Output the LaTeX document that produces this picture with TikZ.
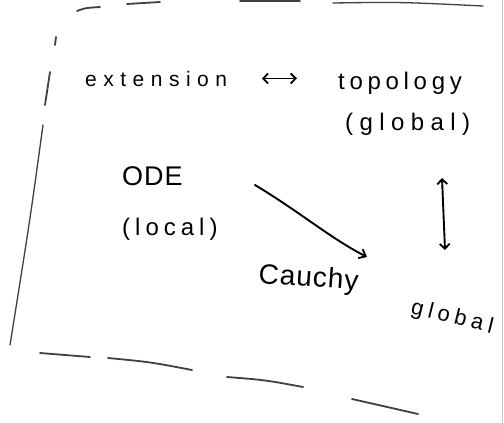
\documentclass[tikz,border=0pt]{standalone}
\usepackage{fontspec}
\setmainfont{Liberation Sans}
\usetikzlibrary{arrows.meta}
\newdimen\lsk
\def\lsA#1{\ifx#1\relax\else#1\kern\lsk\expandafter\lsA\fi}
\newcommand\lsp[2]{\lsk=#1\relax\lsA#2\relax}
\tikzset{
  hand/.style={inner sep=0pt, anchor=base west, text=black},
  link/.style={line width=1.9pt, line cap=round, line join=round,
    arrows={Straight Barb[length=5pt,width=10pt,line width=1.8pt]-Straight Barb[length=5pt,width=10pt,line width=1.8pt]}},
  onelink/.style={line width=1.9pt, line cap=round, -{Straight Barb[length=6pt,width=10pt,line width=1.8pt]}},
  frame/.style={line width=1.8pt, line cap=round, black!75},
}
\begin{document}
\begin{tikzpicture}[x=1pt,y=-1pt]
\useasboundingbox (0,0) rectangle (504,423);
\fill[white] (0,0) rectangle (504,423);
% frame strokes
\draw[frame] (77,11) .. controls (85,8) .. (100,7);
\draw[frame] (127,4) -- (160,2);
\draw[frame] (240,1) -- (300,1);
\draw[frame, line width=1.3pt] (333,3) .. controls (400,2) .. (483,6);
\draw[frame] (56,37) -- (55,45);
\draw[frame] (50,72) -- (45,105);
\draw[frame, line width=1.3pt] (43,125) .. controls (30,220) .. (10,345);
\draw[frame] (40,353) -- (90,357);
\draw[frame] (108,358) .. controls (150,362) .. (192,370);
\draw[frame] (227,377) .. controls (265,380) .. (303,387);
\draw[frame] (352,399) -- (418,414);
\draw[gray!45, line width=1pt] (502,0) -- (502,423);
% texts
\node[hand, font=\fontsize{21}{21}\selectfont] (ext) at (85,86) {\lsp{6.5pt}{extension}};
\node[hand, font=\fontsize{24}{24}\selectfont] (top) at (338,89) {\lsp{4.7pt}{topology}};
\node[hand, font=\fontsize{24}{24}\selectfont] (topg) at (345,130) {\lsp{6.4pt}{(global)}};
\node[hand, font=\fontsize{27}{27}\selectfont] (ode) at (122,185) {\lsp{1pt}{ODE}};
\node[hand, font=\fontsize{24}{24}\selectfont] (loc) at (122,235) {\lsp{5pt}{(local)}};
\node[hand, font=\fontsize{28}{28}\selectfont, rotate=-4] (cau) at (258,283) {\lsp{1pt}{Cauchy}};
\node[hand, font=\fontsize{22}{22}\selectfont, rotate=-14] (glo) at (410,313) {\lsp{5pt}{global}};
% connectors
\coordinate (d1) at (255,185);
\coordinate (d2) at (367,257);
\coordinate (v1) at (442,178);
\coordinate (v2) at (445,250);
\draw[link] ([xshift=28pt]ext.east) -- ([xshift=-41pt]top.west |- ext.east);
\draw[onelink] (d1) .. controls (300,212) and (330,238) .. (d2);
\draw[link] (v1) -- (v2);
\end{tikzpicture}
\end{document}
